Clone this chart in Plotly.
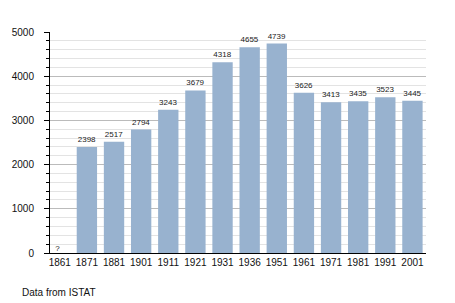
import plotly.graph_objects as go

years = ["1861", "1871", "1881", "1901", "1911", "1921", "1931", "1936", "1951", "1961", "1971", "1981", "1991", "2001"]
population = [None, 2398, 2517, 2794, 3243, 3679, 4318, 4655, 4739, 3626, 3413, 3435, 3523, 3445]
labels = ["?" if v is None else str(v) for v in population]
bar_labels = ["" if v is None else str(v) for v in population]
missing_years = [y for y, v in zip(years, population) if v is None]
missing_labels = [l for l, v in zip(labels, population) if v is None]

fig = go.Figure()
fig.add_trace(go.Bar(
    x=years, y=population, text=bar_labels, textposition="outside",
    textfont=dict(size=8, color="#222222", family="Liberation Sans"),
    marker=dict(color="#98B2CF", line=dict(width=0)),
    cliponaxis=False,
))
fig.add_trace(go.Scatter(
    x=missing_years, y=[0] * len(missing_years), mode="text",
    text=missing_labels, textposition="top left",
    textfont=dict(size=8, color="#222222", family="Liberation Sans"),
    cliponaxis=False, hoverinfo="skip",
))
fig.add_annotation(x=0, y=0, xref="paper", yref="paper", text="Data from ISTAT",
                   showarrow=False, xanchor="left", yanchor="middle",
                   xshift=-30, yshift=-39,
                   font=dict(size=10, color="#111111", family="Liberation Sans"))

fig.update_layout(
    width=455, height=303,
    margin=dict(l=50, r=29, t=32, b=50),
    paper_bgcolor="white", plot_bgcolor="white",
    bargap=0.25, showlegend=False,
    font=dict(family="Liberation Sans", size=10, color="#111111"),
)
fig.update_xaxes(type="category", categoryorder="array", categoryarray=years,
                 range=[-0.36, len(years) - 0.5], tickangle=0,
                 showline=True, linecolor="black", linewidth=1, ticks="",
                 tickfont=dict(size=10), showgrid=False)
fig.update_yaxes(range=[0, 5000], dtick=1000, showline=True, linecolor="black",
                 linewidth=1, ticks="outside", ticklen=5, tickcolor="black",
                 gridcolor="#BBBBBB", gridwidth=1, zeroline=False,
                 tickfont=dict(size=10), ticklabelstandoff=8,
                 minor=dict(dtick=200, showgrid=True, gridcolor="#E3E3E3",
                            ticks="outside", ticklen=3, tickcolor="black"))
fig.write_html("out.html")
